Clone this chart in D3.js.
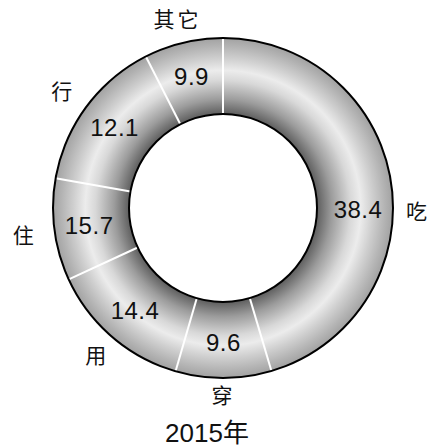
<!DOCTYPE html>
<html><head><meta charset="utf-8">
<script src="https://cdn.jsdelivr.net/npm/d3@7"></script>
<style>body{margin:0;background:#fff}svg{display:block}</style>
</head><body>
<script>
// categories, clockwise from 12 o'clock
const categories = ["吃", "穿", "用", "住", "行", "其它"];
// printed values (labels)
const values = [38.4, 9.6, 14.4, 15.7, 12.1, 9.9];
// share of the ring each segment occupies as drawn in the figure (%)
const arcShares = [45.4, 9.1, 13.6, 9.7, 14.7, 7.5];
const title = "2015年";

const W = 435, H = 448;
const cx = 223, cy = 208, rOut = 170, rIn = 94;

const svg = d3.select("body").append("svg").attr("width", W).attr("height", H);
const defs = svg.append("defs");
const grad = defs.append("radialGradient").attr("id", "ring")
  .attr("gradientUnits", "userSpaceOnUse").attr("cx", 0).attr("cy", 0).attr("r", rOut);
[[0, "#555"], [rIn / rOut, "#5e5e5e"], [0.64, "#9c9c9c"], [0.75, "#d8d8d8"], [0.81, "#ececec"],
 [0.88, "#cfcfcf"], [0.95, "#b4b4b4"], [1, "#a2a2a2"]]
  .forEach(([o, c]) => grad.append("stop").attr("offset", o).attr("stop-color", c));

const g = svg.append("g").attr("transform", `translate(${cx},${cy})`);
const data = categories.map((c, i) => ({ cat: c, val: values[i], share: arcShares[i] }));
const pie = d3.pie().sort(null).value(d => d.share);
const arcs = pie(data);
const arc = d3.arc().innerRadius(rIn).outerRadius(rOut);

g.selectAll("path.seg").data(arcs).join("path").attr("class", "seg")
  .attr("d", arc).attr("fill", "url(#ring)");

// white separators
g.selectAll("line.sep").data(arcs).join("line").attr("class", "sep")
  .attr("x1", d => rIn * Math.sin(d.startAngle)).attr("y1", d => -rIn * Math.cos(d.startAngle))
  .attr("x2", d => rOut * Math.sin(d.startAngle)).attr("y2", d => -rOut * Math.cos(d.startAngle))
  .attr("stroke", "#fff").attr("stroke-width", 2);

// black outlines
[rOut, rIn].forEach(r => g.append("circle").attr("r", r).attr("fill", r === rIn ? "#fff" : "none")
  .attr("stroke", "#000").attr("stroke-width", 2));

const nudge = { "吃": 9 * Math.PI / 180 };
const rNudge = { "穿": -9, "住": 5, "行": 4, "用": -2 };
const mid = d => (d.startAngle + d.endAngle) / 2 + (nudge[d.data.cat] || 0);

g.selectAll("text.val").data(arcs).join("text").attr("class", "val")
  .attr("x", d => 135 * Math.sin(mid(d))).attr("y", d => -135 * Math.cos(mid(d)))
  .attr("text-anchor", "middle").attr("dominant-baseline", "central")
  .attr("font-family", "'Liberation Sans', Arial, sans-serif").attr("font-size", 24)
  .attr("letter-spacing", 0.5).attr("fill", "#111")
  .text(d => d.data.val.toFixed(1));

const lr = d => 195 + (rNudge[d.data.cat] || 0);
g.selectAll("text.cat").data(arcs).join("text").attr("class", "cat")
  .attr("x", d => lr(d) * Math.sin(mid(d))).attr("y", d => -lr(d) * Math.cos(mid(d)))
  .attr("text-anchor", "middle").attr("dominant-baseline", "central")
  .attr("font-family", "'Noto Sans CJK SC', sans-serif").attr("font-size", 21)
  .attr("letter-spacing", 3).attr("fill", "#111")
  .text(d => d.data.cat);

svg.append("text").attr("x", 207).attr("y", 442)
  .attr("text-anchor", "middle")
  .attr("font-family", "'Liberation Sans', 'Noto Sans CJK SC', sans-serif").attr("font-size", 26)
  .attr("fill", "#111").text(title);
</script>
</body></html>
